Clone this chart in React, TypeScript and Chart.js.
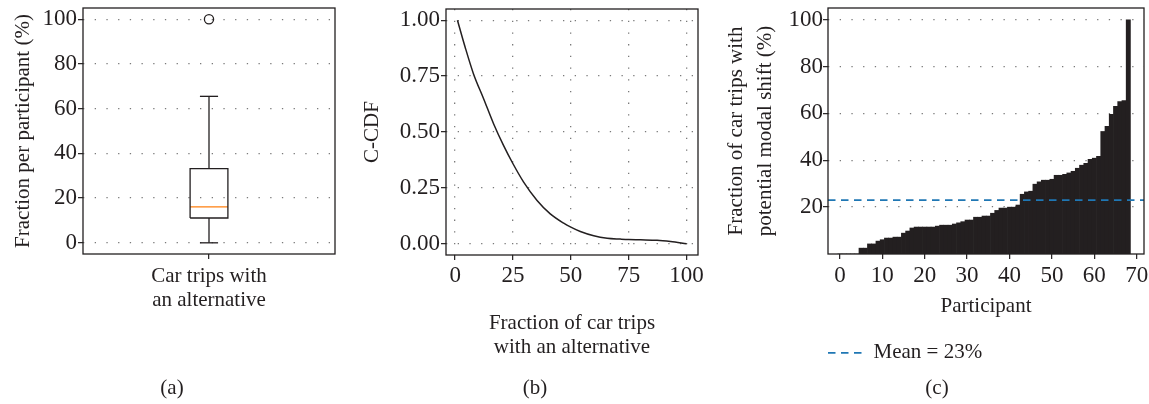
import React, { useEffect, useRef } from "react";
import { Chart, registerables } from "chart.js";

Chart.register(...registerables);

const FONT = "'Liberation Serif', 'Times New Roman', serif";
const INK = "#231f20";
const GRID = "#7a7a7a";
const BLUE = "#1f77b4";
const ORANGE = "#ff7f0e";

// ---------- Panel (a): box plot ----------
const boxCategoryLabel = ["Car trips with", "an alternative"];
const boxWhiskerLow = 0;
const boxQ1 = 11.1;
const boxMedian = 16.1;
const boxQ3 = 33.2;
const boxWhiskerHigh = 65.5;
const boxOutliers = [100];
const boxYTicks = [0, 20, 40, 60, 80, 100];

// ---------- Panel (b): C-CDF ----------
const ccdfX = [1, 4.3, 7.9, 12.3, 16.6, 20.9, 25, 29.6, 35.4, 41.1, 46.9, 50, 54.1, 59.9, 65.7, 71.4, 75, 80.1, 87.3, 93.1, 100];
const ccdfY = [1.0, 0.88, 0.761, 0.649, 0.537, 0.44, 0.358, 0.276, 0.194, 0.134, 0.0925, 0.0746, 0.055, 0.036, 0.025, 0.021, 0.019, 0.018, 0.016, 0.01, 0.0];
const ccdfXTicks = [0, 25, 50, 75, 100];
const ccdfYTicks = [0, 0.25, 0.5, 0.75, 1];

// ---------- Panel (c): per-participant bars ----------
const shiftValues = [
  0, 0, 0, 0, 0,
  2.5, 2.5, 4.3, 4.3, 5.5,
  6.1, 6.8, 6.8, 7.2, 7.2,
  8.9, 9.8, 11.1, 11.5, 11.5,
  11.5, 11.5, 11.5, 11.9, 12.3,
  12.3, 12.3, 12.8, 13.3, 13.8,
  14.5, 14.5, 15.7, 15.7, 16.2,
  16.2, 17.4, 18.6, 19.6, 19.6,
  20.0, 20.0, 20.9, 25.5, 26.5,
  26.8, 29.8, 30.8, 31.5, 31.5,
  31.9, 33.6, 33.6, 34.0, 34.6,
  35.3, 36.6, 37.9, 38.7, 40.4,
  40.9, 41.7, 52.3, 54.5, 59.6,
  63.0, 65.1, 65.5, 100,
];
const meanShift = 23;
const meanLabel = "Mean = 23%";
const shiftXTicks = [0, 10, 20, 30, 40, 50, 60, 70];
const shiftYTicks = [20, 40, 60, 80, 100];

const captions = ["(a)", "(b)", "(c)"];

// ---------- helpers ----------
const H = 404;
const TXT = 21;
const TICK = 23;
const font = (size: number, lineHeight = 1.2) => ({ family: FONT, size, lineHeight, weight: "normal" });

const framePlugin = {
  id: "frame",
  afterDatasetsDraw(chart: any) {
    const { ctx, chartArea } = chart;
    ctx.save();
    ctx.strokeStyle = INK;
    ctx.lineWidth = 1.3;
    ctx.strokeRect(chartArea.left, chartArea.top, chartArea.right - chartArea.left, chartArea.bottom - chartArea.top);
    ctx.restore();
  },
};

const zeroPad = (scale: any) => {
  scale.paddingTop = 0;
  scale.paddingBottom = 0;
  scale.paddingLeft = 0;
  scale.paddingRight = 0;
};
const fixY = (w: number) => (scale: any) => {
  scale.width = w;
  zeroPad(scale);
};
const fixX = (h: number) => (scale: any) => {
  scale.height = h;
  zeroPad(scale);
};
const setTicks = (values: number[]) => (scale: any) => {
  scale.ticks = values.map((v) => ({ value: v }));
};

// empty right-hand box used only to reserve space
const spacerAxis = (w: number) => ({
  type: "linear",
  axis: "y",
  position: "right",
  display: true,
  grid: { display: false, drawTicks: false },
  border: { display: false },
  ticks: { display: false },
  afterFit: fixY(w),
});

const gridOn = {
  color: GRID,
  lineWidth: 1.3,
  drawOnChartArea: true,
  drawTicks: true,
  tickLength: 5,
  tickColor: INK,
  tickWidth: 1.2,
  tickBorderDash: [],
};
const gridOff = { ...gridOn, drawOnChartArea: false };
const border = { display: false, dash: [1.3, 10.4] };

const caption = (text: string, padTop: number) => ({
  display: true,
  text,
  position: "bottom",
  color: INK,
  font: font(TXT),
  padding: { top: padTop, bottom: 0 },
});

const baseOptions = {
  responsive: false,
  animation: false,
  devicePixelRatio: 1,
  events: [],
};

function configA(): any {
  const cx = 0.5;
  const bw = 0.075;
  const cw = 0.036;
  const line = (pts: { x: number; y: number }[], color = INK) => ({
    type: "line",
    data: pts,
    borderColor: color,
    borderWidth: 1.3,
    pointRadius: 0,
    tension: 0,
    fill: false,
  });
  return {
    type: "line",
    data: {
      datasets: [
        line([
          { x: cx - bw, y: boxQ1 },
          { x: cx + bw, y: boxQ1 },
          { x: cx + bw, y: boxQ3 },
          { x: cx - bw, y: boxQ3 },
          { x: cx - bw, y: boxQ1 },
        ]),
        line([{ x: cx - bw, y: boxMedian }, { x: cx + bw, y: boxMedian }], ORANGE),
        line([{ x: cx, y: boxQ3 }, { x: cx, y: boxWhiskerHigh }]),
        line([{ x: cx, y: boxQ1 }, { x: cx, y: boxWhiskerLow }]),
        line([{ x: cx - cw, y: boxWhiskerHigh }, { x: cx + cw, y: boxWhiskerHigh }]),
        line([{ x: cx - cw, y: boxWhiskerLow }, { x: cx + cw, y: boxWhiskerLow }]),
        {
          type: "line",
          data: boxOutliers.map((v) => ({ x: cx, y: v })),
          showLine: false,
          pointRadius: 4.6,
          pointBorderWidth: 1.3,
          pointBorderColor: INK,
          pointBackgroundColor: "rgba(0,0,0,0)",
        },
      ],
    },
    options: {
      ...baseOptions,
      layout: { padding: { left: 0, right: 6, top: 8, bottom: 3.4 } },
      plugins: { legend: { display: false }, tooltip: { enabled: false }, title: caption(captions[0], 0) },
      scales: {
        x: {
          type: "linear",
          min: 0,
          max: 1,
          afterBuildTicks: setTicks([cx]),
          afterFit: fixX(121.4),
          grid: gridOff,
          border,
          ticks: {
            color: INK,
            font: font(TXT, 24 / TXT),
            padding: 5.3,
            maxRotation: 0,
            autoSkip: false,
            callback: () => boxCategoryLabel,
          },
        },
        y: {
          type: "linear",
          min: -5,
          max: 105,
          afterBuildTicks: setTicks(boxYTicks),
          afterFit: fixY(83),
          grid: gridOn,
          border,
          ticks: { color: INK, font: font(TICK), padding: 1, callback: (v: any) => String(v) },
          title: {
            display: true,
            text: "Fraction per participant (%)",
            color: INK,
            font: font(TXT),
            padding: { top: 10.4, bottom: 0 },
          },
        },
        yRight: spacerAxis(9),
      },
    },
    plugins: [framePlugin],
  };
}

function configB(): any {
  return {
    type: "line",
    data: {
      datasets: [
        {
          data: ccdfX.map((x, i) => ({ x, y: ccdfY[i] })),
          borderColor: INK,
          borderWidth: 1.5,
          pointRadius: 0,
          cubicInterpolationMode: "monotone",
          fill: false,
        },
      ],
    },
    options: {
      ...baseOptions,
      layout: { padding: { left: 0, right: 5, top: 9, bottom: 3.4 } },
      plugins: { legend: { display: false }, tooltip: { enabled: false }, title: caption(captions[1], 0) },
      scales: {
        x: {
          type: "linear",
          min: -3.95,
          max: 104.95,
          afterBuildTicks: setTicks(ccdfXTicks),
          afterFit: fixX(120.4),
          grid: gridOn,
          border,
          ticks: { color: INK, font: font(TICK), padding: 2.2, maxRotation: 0, autoSkip: false, callback: (v: any) => String(v) },
          title: {
            display: true,
            text: ["Fraction of car trips", "with an alternative"],
            color: INK,
            font: font(TXT, 24 / TXT),
            padding: { top: 0, bottom: 16.4 },
          },
        },
        y: {
          type: "linear",
          min: -0.05,
          max: 1.05,
          afterBuildTicks: setTicks(ccdfYTicks),
          afterFit: fixY(96),
          grid: gridOn,
          border,
          ticks: { color: INK, font: font(TICK), padding: 1, callback: (v: any) => Number(v).toFixed(2) },
          title: {
            display: true,
            text: "C-CDF",
            color: INK,
            font: font(TXT),
            padding: { top: 10.3, bottom: 0 },
          },
        },
        yRight: spacerAxis(22),
      },
    },
    plugins: [framePlugin],
  };
}

function configC(): any {
  const xMin = -2.8;
  const xMax = 71.7;
  const meanDash = [7.5, 5.5];
  return {
    type: "bar",
    data: {
      datasets: [
        {
          type: "line",
          label: meanLabel,
          data: [
            { x: xMin, y: meanShift },
            { x: xMax, y: meanShift },
          ],
          borderColor: BLUE,
          backgroundColor: BLUE,
          borderWidth: 1.6,
          borderDash: meanDash,
          pointRadius: 0,
          pointStyle: "line",
          fill: false,
        },
        {
          type: "bar",
          label: "Participants",
          data: shiftValues.map((v, i) => ({ x: i, y: v })),
          backgroundColor: INK,
          borderWidth: 0,
          barPercentage: 1,
          categoryPercentage: 1,
        },
      ],
    },
    options: {
      ...baseOptions,
      layout: { padding: { left: 0, right: 0, top: 8, bottom: 3.4 } },
      plugins: {
        tooltip: { enabled: false },
        title: caption(captions[2], 2),
        legend: {
          display: true,
          position: "bottom",
          align: "start",
          fullSize: false,
          labels: {
            color: INK,
            font: font(TXT),
            usePointStyle: true,
            pointStyleWidth: 35,
            padding: 0,
            filter: (item: any) => item.datasetIndex === 0,
            generateLabels: (chart: any) =>
              Chart.defaults.plugins.legend.labels.generateLabels(chart).map((item: any) => ({
                ...item,
                pointStyle: "line",
                strokeStyle: BLUE,
                fillStyle: BLUE,
                lineWidth: 1.6,
                lineDash: item.datasetIndex === 0 ? meanDash : [],
              })),
          },
        },
      },
      scales: {
        x: {
          type: "linear",
          min: xMin,
          max: xMax,
          offset: false,
          afterBuildTicks: setTicks(shiftXTicks),
          afterFit: fixX(88.4),
          grid: { ...gridOff, offset: false },
          border,
          ticks: { color: INK, font: font(TICK), padding: 2.9, maxRotation: 0, autoSkip: false, callback: (v: any) => String(v) },
          title: {
            display: true,
            text: "Participant",
            color: INK,
            font: font(TXT),
            padding: { top: 0, bottom: 23.6 },
          },
        },
        y: {
          type: "linear",
          min: 0,
          max: 105,
          afterBuildTicks: setTicks(shiftYTicks),
          afterFit: fixY(103),
          grid: gridOn,
          border,
          ticks: { color: INK, font: font(TICK), padding: 0, callback: (v: any) => String(v) },
          title: {
            display: true,
            text: ["Fraction of car trips with", "potential modal shift (%)"],
            color: INK,
            font: font(TXT, 29 / TXT),
            padding: { top: -3.1, bottom: 0 },
          },
        },
        yRight: spacerAxis(5),
      },
    },
    plugins: [framePlugin],
  };
}

function ChartBox({ left, width, make }: { left: number; width: number; make: () => any }) {
  const ref = useRef<HTMLCanvasElement>(null);
  useEffect(() => {
    const chart = new Chart(ref.current as HTMLCanvasElement, make());
    return () => chart.destroy();
  }, []);
  return (
    <div style={{ position: "absolute", left, top: 0, width, height: H }}>
      <canvas ref={ref} width={width} height={H} style={{ width, height: H, display: "block" }} />
    </div>
  );
}

export default function App() {
  return (
    <div style={{ position: "absolute", left: 0, top: 0, width: 1149, height: H, background: "#fff", overflow: "hidden" }}>
      <ChartBox left={0} width={350} make={configA} />
      <ChartBox left={350} width={375} make={configB} />
      <ChartBox left={725} width={424} make={configC} />
    </div>
  );
}
